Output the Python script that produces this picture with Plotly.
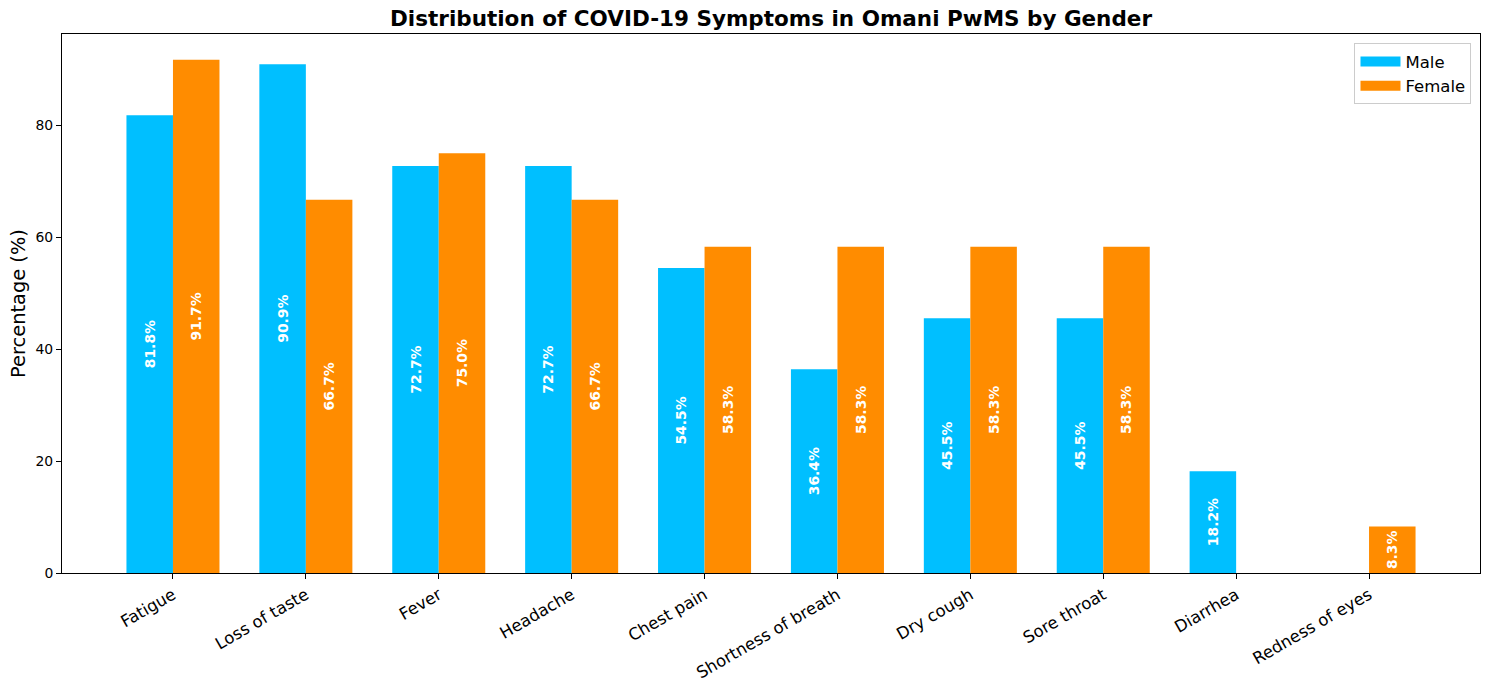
import plotly.graph_objects as go

symptoms = ["Fatigue", "Loss of taste", "Fever", "Headache", "Chest pain",
            "Shortness of breath", "Dry cough", "Sore throat", "Diarrhea", "Redness of eyes"]
male = [81.8, 90.9, 72.7, 72.7, 54.5, 36.4, 45.5, 45.5, 18.2, 0.0]
female = [91.7, 66.7, 75.0, 66.7, 58.3, 58.3, 58.3, 58.3, 0.0, 8.3]
series_names = ["Male", "Female"]
series_colors = ["#00BFFF", "#FF8C00"]

FONT = "DejaVu Sans"

def labels(vals):
    return [f"{v:.1f}%" if v > 0 else "" for v in vals]

fig = go.Figure()
for name, vals, col in zip(series_names, [male, female], series_colors):
    fig.add_trace(go.Bar(
        x=symptoms, y=vals, name=name, marker=dict(color=col, line=dict(width=0)),
        text=labels(vals), textposition="inside", insidetextanchor="middle", textangle=-90,
        textfont=dict(family=FONT, size=13.9, color="white", weight="bold"),
        constraintext="none", hoverinfo="skip", showlegend=False))
# legend entries drawn as wide patches like matplotlib
for name, col in zip(series_names, series_colors):
    fig.add_trace(go.Scatter(
        x=[None], y=[None], mode="lines", name=name,
        line=dict(color=col, width=12), showlegend=True, hoverinfo="skip"))

fig.update_layout(
    width=1489, height=690,
    margin=dict(l=62, r=9, t=34, b=117),
    paper_bgcolor="white", plot_bgcolor="white",
    barmode="group", bargap=0.3, bargroupgap=0,
    font=dict(family=FONT, color="black"),
    title=dict(text="<b>Distribution of COVID-19 Symptoms in Omani PwMS by Gender</b>",
               x=0.5, xref="paper", y=1, yref="container", yanchor="top", pad=dict(t=11),
               font=dict(family=FONT, size=21.5, color="black")),
    legend=dict(x=0.994, y=0.983, xanchor="right", yanchor="top",
                bgcolor="rgba(255,255,255,0.8)", bordercolor="#cccccc", borderwidth=1,
                font=dict(family=FONT, size=16.5), itemwidth=40, tracegroupgap=2),
    showlegend=True,
)
fig.update_xaxes(
    range=[-0.835, 9.835], showline=True, linecolor="black", linewidth=1, mirror=True,
    ticks="outside", ticklen=5, tickcolor="black", tickangle=-30,
    tickfont=dict(family=FONT, size=16.5), showgrid=False, zeroline=False)
fig.update_yaxes(
    range=[0, 96.3], showline=True, linecolor="black", linewidth=1, mirror=True,
    ticks="outside", ticklen=5, tickcolor="black", tickvals=[0, 20, 40, 60, 80],
    tickfont=dict(family=FONT, size=13.9), showgrid=False, zeroline=False,
    title=dict(text="Percentage (%)", font=dict(family=FONT, size=19.4), standoff=4))

fig.write_html("out.html", config={"displayModeBar": False},
               post_script="document.body.style.margin='0';")
